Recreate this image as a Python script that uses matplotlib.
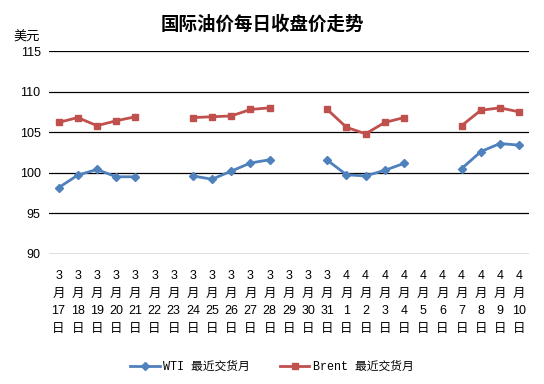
import numpy as np
import matplotlib
matplotlib.use("Agg")
import matplotlib.pyplot as plt

plt.rcParams['font.family'] = ['Liberation Sans', 'Noto Sans CJK SC', 'DejaVu Sans']

months = [3]*15 + [4]*10
days = list(range(17, 32)) + list(range(1, 11))
nan = np.nan
wti = [98.15, 99.7, 100.4, 99.5, 99.5, nan, nan, 99.6, 99.2, 100.2, 101.2, 101.6, nan, nan,
       101.55, 99.75, 99.6, 100.3, 101.15, nan, nan, 100.5, 102.6, 103.6, 103.4]
brent = [106.2, 106.8, 105.8, 106.4, 106.9, nan, nan, 106.8, 106.9, 107.0, 107.8, 108.0, nan, nan,
         107.8, 105.6, 104.8, 106.2, 106.8, nan, nan, 105.8, 107.7, 108.0, 107.5]
yticks = [90, 95, 100, 105, 110, 115]
title = '国际油价每日收盘价走势'
unit = '美元'
wti_label = 'WTI 最近交货月'
brent_label = 'Brent 最近交货月'

labels = [f"{m}\n月\n{d}\n日" for m, d in zip(months, days)]
x = np.arange(len(labels))

fig = plt.figure(figsize=(5.44, 3.84), dpi=100)
ax = fig.add_axes([0.090, 0.339, 0.882, 0.528])

for y in yticks:
    ax.axhline(y, color='black', lw=0.9, zorder=1)

ax.plot(x, wti, color='#4F81BD', lw=2, marker='D', ms=4, zorder=3, label=wti_label)
ax.plot(x, brent, color='#C0504D', lw=2, marker='s', ms=5, zorder=3, label=brent_label)

ax.set_xlim(-0.5, len(labels) - 0.5)
ax.set_ylim(90, 115)
ax.set_yticks(yticks)
ax.set_yticklabels([str(v) for v in yticks], fontsize=9)
ax.set_xticks(x)
ax.set_xticklabels(labels, fontsize=9, linespacing=1.6)
ax.tick_params(axis='both', length=0, pad=6)
ax.tick_params(axis='x', pad=12)
for s in ax.spines.values():
    s.set_visible(False)

fig.text(0.482, 0.936, title, ha='center', va='center', fontsize=13.3, fontweight='bold',
         family=['Noto Sans CJK SC', 'DejaVu Sans'])
fig.text(0.05, 0.903, unit, ha='center', va='center', fontsize=9.5,
         family=['Noto Sans CJK SC', 'DejaVu Sans'])

leg = fig.legend(loc='center', bbox_to_anchor=(0.50, 0.045), ncol=2, frameon=False,
                 prop={'family': ['Liberation Mono', 'Noto Sans CJK SC'], 'size': 8.5},
                 handlelength=2.5, columnspacing=2.5, handletextpad=0.3)

fig.savefig('out.png', dpi=100)
